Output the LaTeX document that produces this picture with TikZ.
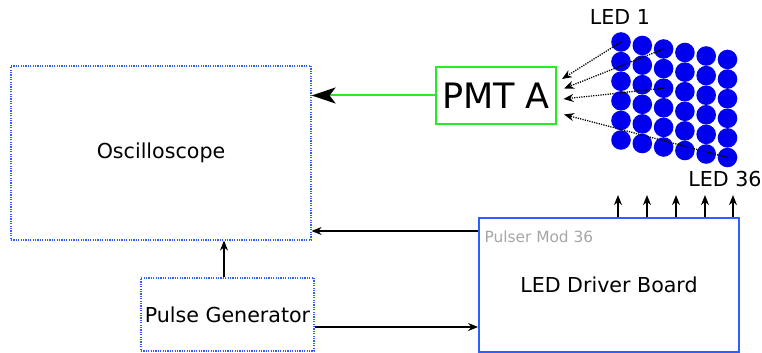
\documentclass[tikz,border=0pt]{standalone}
\usepackage{fontspec}
\setmainfont{DejaVu Sans}
\usepackage{xcolor}
\usetikzlibrary{arrows.meta, positioning}
\definecolor{boxblue}{RGB}{45,95,255}
\definecolor{ledblue}{RGB}{0,0,238}
\definecolor{pmtgreen}{RGB}{40,235,40}
\tikzset{
    dbox/.style={rectangle, draw=boxblue, line width=0.6pt,
                 dash pattern=on 0.6pt off 0.6pt, inner sep=0pt,
                 font=\fontsize{10.3}{12}\selectfont},
    sbox/.style={rectangle, draw=boxblue, line width=0.9pt, inner sep=0pt,
                 font=\fontsize{10.3}{12}\selectfont},
    pmtbox/.style={rectangle, draw=pmtgreen, line width=0.8pt, inner sep=0pt,
                 minimum width=60pt, minimum height=28.5pt,
                 font=\fontsize{17.5}{20}\selectfont},
    led/.style={circle, fill=ledblue, minimum size=9.8pt, inner sep=0pt},
    lbl/.style={font=\fontsize{10.3}{12}\selectfont},
    arr/.style={-{Stealth[length=5pt,width=4pt]}, line width=0.65pt, draw=black},
    farr/.style={arr, dash pattern=on 0.6pt off 0.6pt},
    garr/.style={-{Stealth[length=12pt,width=8pt,inset=3pt,color=black,fill=black]},
                 line width=1pt, draw=pmtgreen}
}

\begin{document}
\begin{tikzpicture}[x=0.5pt, y=-0.5pt]
\useasboundingbox (0,0) rectangle (762,353);

\node[dbox, minimum width=150pt, minimum height=87pt]  at (161,153)   (osc) {Oscilloscope};
\node[pmtbox]                                         at (496,95.5)  (pmt) {PMT A};
\node[dbox, minimum width=86.5pt, minimum height=36.5pt] at (227.5,314.5) (pg) {Pulse Generator};
\node[sbox, minimum width=130pt, minimum height=67pt]  at (609,285)   (drv) {LED Driver Board};
\node[font=\fontsize{7.7}{9}\selectfont, text=black!35, inner sep=0pt,
      below right=6.5pt and 3pt of drv.north west] (mod) {Pulser Mod 36};

% LED matrix
\foreach \i in {0,...,5}
  \foreach \j in {0,...,5}
    \node[led] (led-\i-\j) at ({621+21.3*\i},{42+3.5*\i+19.6*\j}) {};

\node[lbl] at (620,17)  (first) {LED 1};
\node[lbl] at (725,179) (last)  {LED 36};

% light onto the PMT
\coordinate (p1) at (562,79);
\coordinate (p2) at (564,88.5);
\coordinate (p3) at (563.5,99);
\coordinate (p4) at (564,114.5);
\draw[farr] (led-0-0.center) -- (p1);
\draw[farr] (led-2-0.center) -- (p2);
\draw[farr] (led-2-2.center) -- (p3);
\draw[farr] (led-5-5.center) -- (p4);

\draw[garr] (pmt.west) -- (pmt.west -| osc.east);
\draw[arr] ([yshift=27pt]drv.west) -- ([yshift=27pt]drv.west -| osc.east);
\draw[arr] ([xshift=-1.75pt]pg.north) -- ([xshift=-1.75pt]pg.north |- osc.south);
\draw[arr] ([yshift=-6.25pt]pg.east) -- ([yshift=-6.25pt]pg.east -| drv.west);
\foreach \x in {618,647,676,705,733}
  \draw[arr] (drv.north -| \x,0) -- ++(0,-22);
\end{tikzpicture}
\end{document}
